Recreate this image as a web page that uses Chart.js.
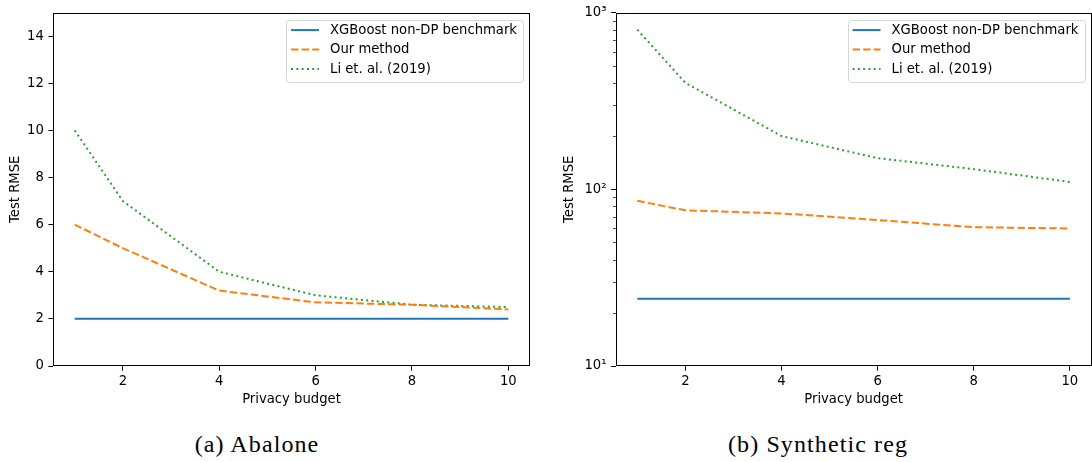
<!DOCTYPE html>
<html>
<head>
<meta charset="utf-8">
<script src="https://cdn.jsdelivr.net/npm/chart.js@4.4.1/dist/chart.umd.min.js"></script>
<style>
  body { margin: 0; background: #fff; width: 1092px; height: 462px; position: relative; overflow: hidden; }
  .panel { position: absolute; top: 0; }
  .caption { position: absolute; top: 432px; width: 240px; text-align: center; font-family: 'Liberation Serif', serif; font-size: 24px; line-height: 24px; letter-spacing: 1.1px; color: #000; }
</style>
</head>
<body>
<canvas id="abalone" class="panel" width="546" height="420" style="left:0"></canvas>
<canvas id="synthetic" class="panel" width="546" height="420" style="left:546px"></canvas>
<div class="caption" style="left:137px">(a) Abalone</div>
<div class="caption" style="left:698px">(b) Synthetic reg</div>
<script>
const budgets = [1, 2, 4, 6, 8, 10]
const seriesNames = ['XGBoost non-DP benchmark', 'Our method', 'Li et. al. (2019)']

// (a) Abalone
const abaloneXgb = [2, 2, 2, 2, 2, 2]
const abaloneOurs = [6, 5, 3.2, 2.7, 2.6, 2.4]
const abaloneLi = [10, 7, 4, 3, 2.6, 2.5]

// (b) Synthetic reg, log scale
const synthXgb = [24, 24, 24, 24, 24, 24]
const synthOurs = [86, 76, 73, 67, 61, 60]
const synthLi = [800, 400, 200, 150, 130, 110]

const budgetTicks = [2, 4, 6, 8, 10]
const abaloneTicks = [0, 2, 4, 6, 8, 10, 12, 14]
const synthTicks = [10, 100, 1000]
const synthTickLabels = ['10¹', '10²', '10³']
const synthMinorTicks = [20, 30, 40, 50, 60, 70, 80, 90, 200, 300, 400, 500, 600, 700, 800, 900]

const seriesColors = ['#1f77b4', '#ff7f0e', '#2ca02c']
const seriesDashes = [[], [7.4, 3.2], [2, 3.3]]
const FONT = { family: 'DejaVu Sans', size: 13.2 }

Chart.defaults.color = '#000'
Chart.defaults.font.family = FONT.family
Chart.defaults.font.size = FONT.size

const makeDatasets = (seriesValues) => seriesValues.map((values, i) => ({
  label: seriesNames[i],
  data: values.map((y, j) => ({ x: budgets[j], y })),
  borderColor: seriesColors[i],
  borderDash: seriesDashes[i],
  borderWidth: 2,
  pointRadius: 0,
  fill: false,
  tension: 0
}))

// spines, minor ticks and the matplotlib style legend box
const framePlugin = {
  id: 'frame',
  afterDraw (chart, args, opts) {
    const { ctx, chartArea: a } = chart
    const yScale = chart.scales.y
    ctx.save()
    ctx.strokeStyle = '#000'
    ctx.lineWidth = 0.8
    ;(opts.minorTicks || []).forEach((v) => {
      const y = Math.round(yScale.getPixelForValue(v)) + 0.5
      ctx.beginPath()
      ctx.moveTo(a.left - 2.6, y)
      ctx.lineTo(a.left, y)
      ctx.stroke()
    })
    ctx.lineWidth = 1
    const l = Math.round(a.left) + 0.5
    const t = Math.round(a.top) + 0.5
    const r = Math.round(a.right) - 0.5
    const b = Math.round(a.bottom) - 0.5
    ctx.strokeRect(l, t, r - l, b - t)

    ctx.font = `${FONT.size}px ${FONT.family}`
    const sets = chart.data.datasets
    const textW = Math.max(...sets.map(ds => ctx.measureText(ds.label).width))
    const boxW = 44 + textW + 6
    const boxH = 62
    const bx = a.right - 7 - boxW
    const by = a.top + 7.3
    ctx.fillStyle = 'rgba(255,255,255,0.8)'
    ctx.strokeStyle = 'rgba(204,204,204,0.8)'
    ctx.beginPath()
    ctx.roundRect(Math.round(bx) + 0.5, Math.round(by) + 0.5, Math.round(boxW), Math.round(boxH), 3)
    ctx.fill()
    ctx.stroke()
    const rows = [10.3, 29.8, 49.3]
    sets.forEach((ds, i) => {
      const y = by + rows[i]
      ctx.strokeStyle = ds.borderColor
      ctx.lineWidth = 2
      ctx.setLineDash(ds.borderDash)
      ctx.beginPath()
      ctx.moveTo(bx + 5, y)
      ctx.lineTo(bx + 33, y)
      ctx.stroke()
      ctx.setLineDash([])
      ctx.fillStyle = '#000'
      ctx.textBaseline = 'middle'
      ctx.fillText(ds.label, bx + 44, y)
    })
    ctx.restore()
  }
}

const axisBase = {
  border: { display: false },
  grid: { drawOnChartArea: false, drawTicks: true, tickLength: 4.6, tickColor: '#000', tickWidth: 1 },
  ticks: { autoSkip: false, maxRotation: 0, color: '#000', font: FONT }
}

const createChart = (id, seriesValues, yAxis, yWidth, titlePad, rightPad, minorTicks) => {
  return new Chart(document.getElementById(id), {
    type: 'line',
    data: { datasets: makeDatasets(seriesValues) },
    plugins: [framePlugin],
    options: {
      responsive: false,
      animation: false,
      devicePixelRatio: 1,
      layout: { padding: { top: 11.7, right: rightPad, left: 0, bottom: 0 } },
      plugins: {
        legend: { display: false },
        tooltip: { enabled: false },
        frame: { minorTicks }
      },
      scales: {
        x: {
          ...axisBase,
          type: 'linear',
          min: 0.55,
          max: 10.45,
          ticks: { ...axisBase.ticks, padding: 3 },
          afterBuildTicks: (scale) => { scale.ticks = budgetTicks.map(v => ({ value: v })) },
          afterFit: (scale) => { scale.height = 54 },
          title: { display: true, text: 'Privacy budget', font: FONT, color: '#000', padding: { top: 0, bottom: 12.1 } }
        },
        y: {
          ...axisBase,
          ...yAxis,
          ticks: { ...axisBase.ticks, padding: 4.6, ...(yAxis.ticks || {}) },
          afterFit: (scale) => { scale.width = yWidth },
          title: { display: true, text: 'Test RMSE', font: FONT, color: '#000', padding: { top: titlePad, bottom: 0 } }
        }
      }
    }
  })
}

createChart('abalone', [abaloneXgb, abaloneOurs, abaloneLi], {
  type: 'linear',
  min: 0,
  max: 15,
  afterBuildTicks: (scale) => { scale.ticks = abaloneTicks.map(v => ({ value: v })) }
}, 53, 7.8, 16, [])

createChart('synthetic', [synthXgb, synthOurs, synthLi], {
  type: 'logarithmic',
  min: 10,
  max: 1000,
  afterBuildTicks: (scale) => { scale.ticks = synthTicks.map(v => ({ value: v })) },
  ticks: { callback: (v) => synthTickLabels[synthTicks.indexOf(v)] }
}, 69.7, 15.9, 0.5, synthMinorTicks)
</script>
</body>
</html>
